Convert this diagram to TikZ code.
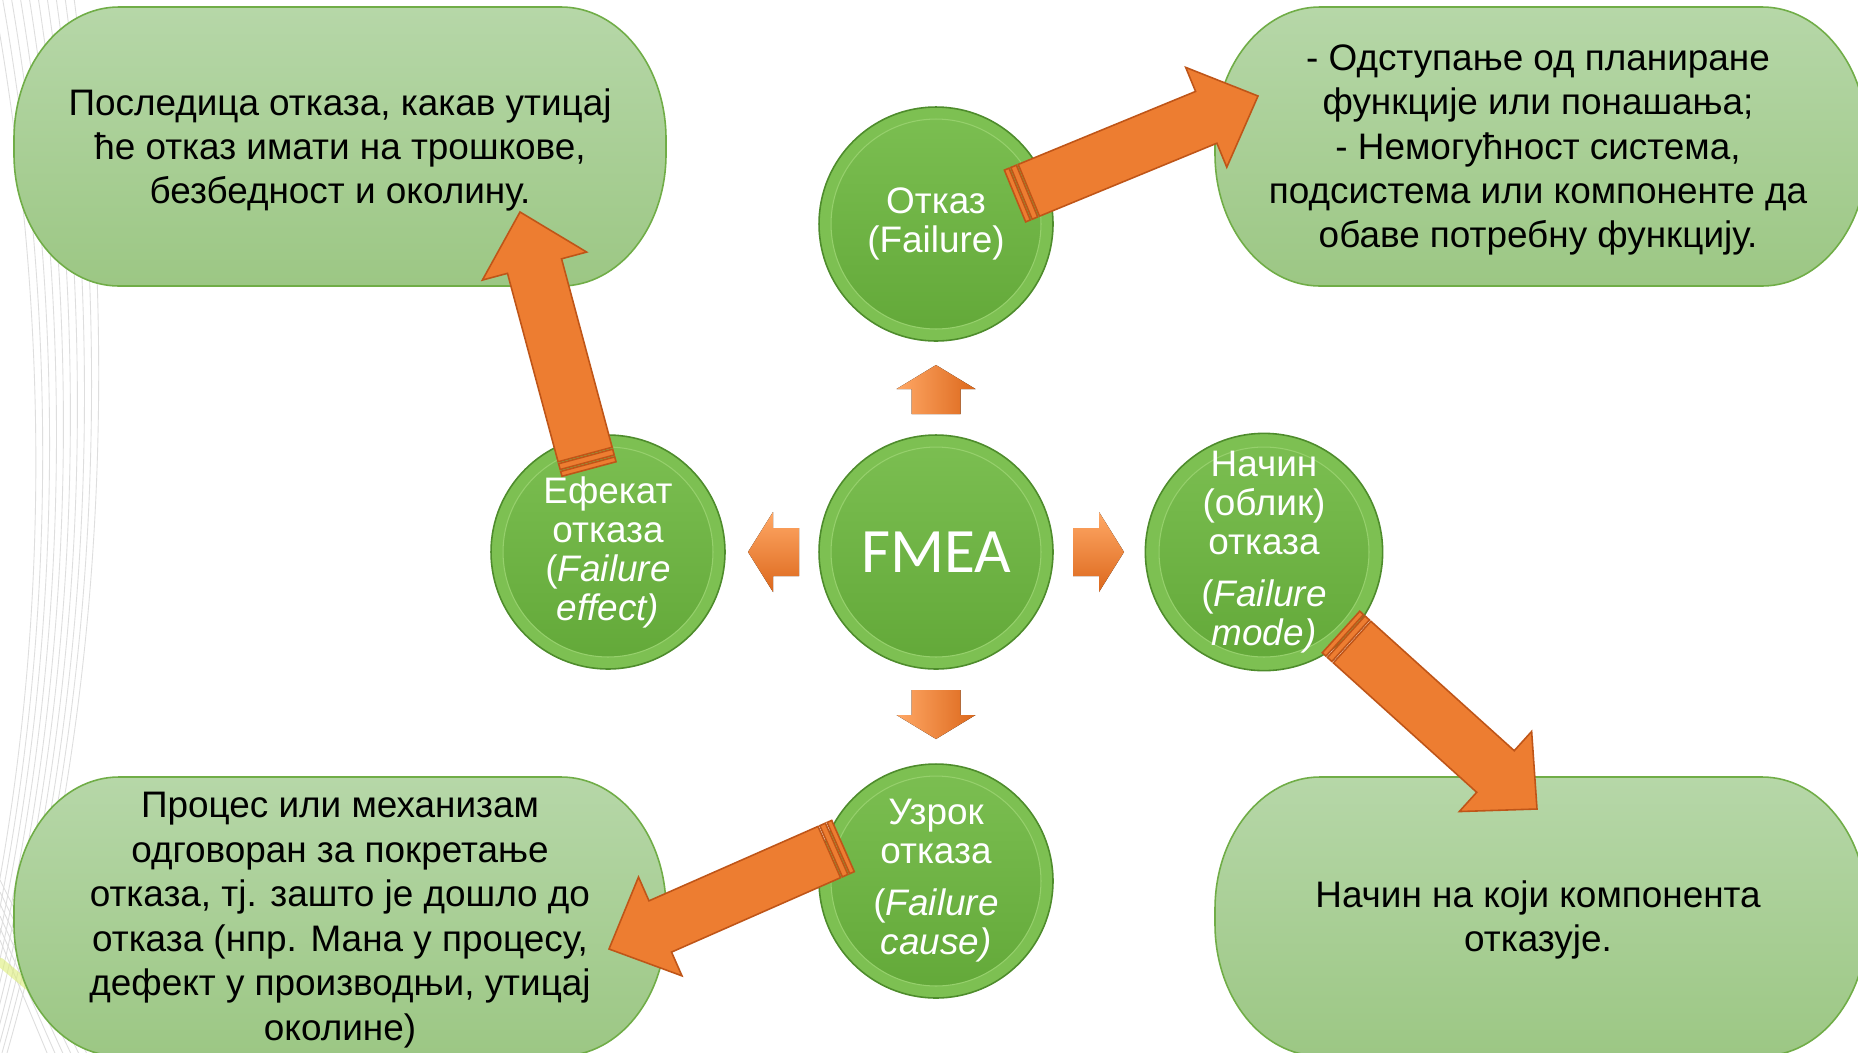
\documentclass[tikz,border=0pt]{standalone}
\usepackage{fontspec}
\setmainfont{Liberation Sans}
\newfontfamily\calib{Carlito}
\usetikzlibrary{calc}
\definecolor{boxtop}{HTML}{B6D7A8}
\definecolor{boxbot}{HTML}{9CC784}
\definecolor{boxedge}{HTML}{70AD47}
\definecolor{ringc}{HTML}{7DC052}
\definecolor{ringedge}{HTML}{4E8C2C}
\definecolor{facetop}{HTML}{7CBF52}
\definecolor{facebot}{HTML}{62A838}
\definecolor{faceedge}{HTML}{96D06C}
\definecolor{arrowfill}{HTML}{ED7D31}
\definecolor{arrowedge}{HTML}{BF5518}
\definecolor{smalllight}{HTML}{FFA866}
\definecolor{smalldark}{HTML}{DC681C}
\definecolor{bgline}{HTML}{DEDEDE}

% striped block arrow from tail #1 to tip #2
\newcommand\stripedarrow[2]{%
  \coordinate (sb) at ($(#2)!1.12cm!(#1)$);
  \coordinate (s1) at ($(#1)!0.10cm!(#2)$);
  \coordinate (s2) at ($(#1)!0.14cm!(#2)$);
  \coordinate (s3) at ($(#1)!0.26cm!(#2)$);
  \coordinate (s4) at ($(#1)!0.30cm!(#2)$);
  \filldraw[bigarrow] ($(#1)!0.56cm!90:(#2)$) -- ($(s1)!0.56cm!90:(#2)$)
     -- ($(s1)!0.56cm!-90:(#2)$) -- ($(#1)!0.56cm!-90:(#2)$) -- cycle;
  \filldraw[bigarrow] ($(s2)!0.56cm!90:(#2)$) -- ($(s3)!0.56cm!90:(#2)$)
     -- ($(s3)!0.56cm!-90:(#2)$) -- ($(s2)!0.56cm!-90:(#2)$) -- cycle;
  \filldraw[bigarrow] ($(s4)!0.56cm!90:(#2)$) -- ($(sb)!0.56cm!90:(#2)$)
     -- ($(sb)!1.08cm!90:(#2)$) -- (#2) -- ($(sb)!1.08cm!-90:(#2)$)
     -- ($(sb)!0.56cm!-90:(#2)$) -- ($(s4)!0.56cm!-90:(#2)$) -- cycle;
}
% rounded box with elliptical corners: x1,y1,x2,y2
\newcommand\greenbox[4]{%
  \path[boxshape] ({#1+105},#2) -- ({#3-105},#2)
    .. controls ({#3-47},#2) and (#3,{#2+59}) .. (#3,{#2+132})
    -- (#3,{#4-132})
    .. controls (#3,{#4-59}) and ({#3-47},#4) .. ({#3-105},#4)
    -- ({#1+105},#4)
    .. controls ({#1+47},#4) and (#1,{#4-59}) .. (#1,{#4-132})
    -- (#1,{#2+132})
    .. controls (#1,{#2+59}) and ({#1+47},#2) .. ({#1+105},#2) -- cycle;
}

\begin{document}
\begin{tikzpicture}[x=0.02cm, y=-0.02cm,
  ball/.style={circle, minimum size=4.68cm, inner sep=0pt, outer sep=0pt,
    draw=ringedge, line width=0.9pt, fill=ringc, text=white, align=center,
    font=\fontsize{21}{22.2}\selectfont,
    path picture={
      \fill[top color=facetop, bottom color=facebot]
        (path picture bounding box.center) circle (2.10cm);
      \draw[faceedge, line width=0.6pt]
        (path picture bounding box.center) circle (2.10cm);
    }},
  boxtext/.style={align=center, font=\fontsize{21}{25.3}\selectfont, inner sep=0pt},
  bigarrow/.style={fill=arrowfill, draw=arrowedge, line width=0.9pt, line join=miter},
  boxshape/.style={top color=boxtop, bottom color=boxbot, draw=boxedge, line width=0.9pt},
  smallh/.style={left color=smalllight, right color=smalldark},
  smallv/.style={top color=smalllight, bottom color=smalldark}]

\clip (0,0) rectangle (1858,1052);
\fill[white] (0,0) rectangle (1858,1052);

% background decoration
\foreach \i in {0,...,9}
  \draw[bgline, line width=0.5pt] ({-8+9*\i},-10) .. controls ({55+7*\i},330) and ({55+6*\i},700) .. ({-40+5*\i},1060);
\foreach \i in {0,...,5}
  \draw[bgline, line width=0.5pt] (0,{880+12*\i}) -- ({90-8*\i},1060);
\draw[yellow!75!green!55, line width=5pt, opacity=0.6, line cap=round] (0,962) -- (50,1004);

% boxes
\greenbox{14}{7}{666}{286}
\greenbox{1215}{7}{1867}{286}
\greenbox{14}{777}{666}{1056}
\greenbox{1215}{777}{1867}{1056}

\node[boxtext] (tl) at (340,150) {Последица отказа, какав утицај\\ће отказ имати на трошкове,\\безбедност и околину.};
\node[boxtext] (tr) at (1538,150) {- Одступање од планиране\\функције или понашања;\\- Немогућност система,\\подсистема или компоненте да\\обаве потребну функцију.};
\node[boxtext] (bl) at (340,920) {Процес или механизам\\одговоран за покретање\\отказа, тј. зашто је дошло до\\отказа (нпр. Мана у процесу,\\дефект у производњи, утицај\\околине)};
\node[boxtext] (br) at (1538,920) {Начин на који компонента\\отказује.};

% circles
\node[ball, font=\calib\fontsize{36}{40}\selectfont] (fmea) at (936,552) {FMEA};
\node[ball] (otkaz) at (936,224) {Отказ\\(Failure)};
\node[ball] (efekat) at (608,552) {Ефекат\\отказа\\(\textit{Failure}\\\textit{effect)}};
\node[ball] (nacin) at (1264,552) {Начин\\(облик)\\отказа\\[7.4pt](\textit{Failure}\\\textit{mode)}};
\node[ball] (uzrok) at (936,881) {Узрок\\отказа\\[7.4pt](\textit{Failure}\\\textit{cause)}};

% small arrows around FMEA
\fill[smallh] (936,365) -- (975.5,389) -- (960.5,389) -- (960.5,414) -- (911.5,414) -- (911.5,389) -- (896.5,389) -- cycle;
\fill[smallh] (936,739) -- (975.5,715) -- (960.5,715) -- (960.5,690) -- (911.5,690) -- (911.5,715) -- (896.5,715) -- cycle;
\fill[smallv] (1124,552) -- (1099,512) -- (1099,528) -- (1073,528) -- (1073,576) -- (1099,576) -- (1099,592) -- cycle;
\fill[smallv] (748,552) -- (773,512) -- (773,528) -- (799,528) -- (799,576) -- (773,576) -- (773,592) -- cycle;

% big striped arrows
\coordinate (a1t) at (1015,196); \coordinate (a1h) at (1258,96);
\coordinate (a2t) at (589,469);  \coordinate (a2h) at (520,212);
\coordinate (a3t) at (1341,632); \coordinate (a3h) at (1537,809);
\coordinate (a4t) at (843,846);  \coordinate (a4h) at (609,949);
\stripedarrow{a1t}{a1h}
\stripedarrow{a2t}{a2h}
\stripedarrow{a3t}{a3h}
\stripedarrow{a4t}{a4h}
\end{tikzpicture}
\end{document}
